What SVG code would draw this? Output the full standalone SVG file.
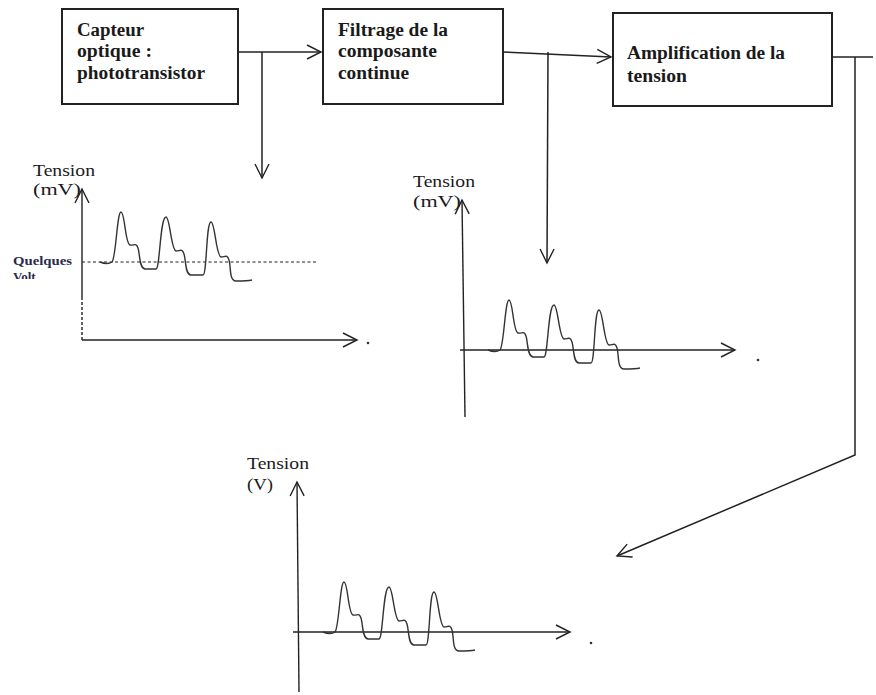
<svg xmlns="http://www.w3.org/2000/svg" width="876" height="695" viewBox="0 0 876 695">
<style>
.box{fill:#fff;stroke:#222;stroke-width:2}
.bt{font-family:"Liberation Serif","Times New Roman",serif;font-weight:bold;font-size:18px;fill:#1a1a1a}
.lt{font-family:"Liberation Serif","Times New Roman",serif;font-size:16px;fill:#1a1a1a}
.ln{fill:none;stroke:#222;stroke-width:1.5}
.ax{fill:none;stroke:#222;stroke-width:1.4}
.wv{fill:none;stroke:#333;stroke-width:1.4}
</style>
<defs>
<marker id="arr" viewBox="-16 -9 18 18" refX="0" refY="0" markerWidth="18" markerHeight="18" markerUnits="userSpaceOnUse" orient="auto">
<path d="M-14,-7 L0,0 L-14,7" fill="none" stroke="#222" stroke-width="1.4"/>
</marker>
<path id="wave" d="M0,0 C5,2 9,2 12,0 C16,-4 17,-50 21,-50 C25,-50 25,-18 30,-17 C34,-16 36,-20 38,-14 C40,-8 39,6 45,7 L56,7 C60,7 60,-45 66,-45 C70,-45 71,-12 76,-11 C80,-11 82,-14 84,-8 C86,-2 85,13 91,13 L103,13 C107,13 106,-40 111,-40 C115,-40 116,-6 121,-5 C125,-5 127,-8 129,-2 C131,4 129,19 136,19 C142,19 148,19 152,18"/>
<clipPath id="voltclip"><rect x="0" y="267" width="80" height="12"/></clipPath>
</defs>

<g id="capteur">
<rect class="box" x="62" y="9" width="176" height="95"/>
<text class="bt" x="77" y="35.5" textLength="67" lengthAdjust="spacingAndGlyphs">Capteur</text>
<text class="bt" x="77" y="57" textLength="75" lengthAdjust="spacingAndGlyphs">optique :</text>
<text class="bt" x="77" y="78.5" textLength="128" lengthAdjust="spacingAndGlyphs">phototransistor</text>
</g>

<g id="filtrage">
<rect class="box" x="323" y="9" width="180" height="95"/>
<text class="bt" x="338" y="35.5" textLength="110" lengthAdjust="spacingAndGlyphs">Filtrage de la</text>
<text class="bt" x="338" y="57" textLength="99" lengthAdjust="spacingAndGlyphs">composante</text>
<text class="bt" x="338" y="78.5" textLength="71" lengthAdjust="spacingAndGlyphs">continue</text>
</g>

<g id="amplification">
<rect class="box" x="613" y="13" width="219" height="93"/>
<text class="bt" x="627" y="59" textLength="158" lengthAdjust="spacingAndGlyphs">Amplification de la</text>
<text class="bt" x="627" y="81.5" textLength="60" lengthAdjust="spacingAndGlyphs">tension</text>
</g>

<g id="connectors">
<line class="ln" x1="238" y1="52" x2="321" y2="52" marker-end="url(#arr)"/>
<line class="ln" x1="262" y1="52" x2="262" y2="178" marker-end="url(#arr)"/>
<line class="ln" x1="503" y1="52" x2="611" y2="57" marker-end="url(#arr)"/>
<line class="ln" x1="548" y1="52" x2="547" y2="263" marker-end="url(#arr)"/>
<polyline class="ln" points="832,57 873,57"/>
<polyline class="ln" points="855,57 855,455 617,556" marker-end="url(#arr)"/>
</g>

<g id="graph1">
<text class="lt" x="33" y="176" textLength="62" lengthAdjust="spacingAndGlyphs">Tension</text>
<text class="lt" x="33" y="195" textLength="48" lengthAdjust="spacingAndGlyphs">(mV)</text>
<line class="ax" x1="82" y1="297" x2="82" y2="189" marker-end="url(#arr)"/>
<line class="ax" x1="82" y1="297" x2="82" y2="340" stroke-dasharray="3,2"/>
<line class="ax" x1="82" y1="340" x2="357" y2="340" marker-end="url(#arr)"/>
<circle cx="368" cy="343" r="1.3" fill="#333"/>
<line x1="82" y1="262" x2="318" y2="262" stroke="#222" stroke-width="1.2" stroke-dasharray="3,2.5"/>
<text x="13" y="265" font-family="Liberation Serif, serif" font-size="13" font-weight="bold" fill="#2a2a4a" textLength="59" lengthAdjust="spacingAndGlyphs">Quelques</text>
<text x="13" y="281" font-family="Liberation Serif, serif" font-size="13" font-weight="bold" fill="#2a2a4a" clip-path="url(#voltclip)">Volt</text>
<use href="#wave" class="wv" transform="translate(100,262)"/>
</g>

<g id="graph2">
<text class="lt" x="413" y="187" textLength="62" lengthAdjust="spacingAndGlyphs">Tension</text>
<text class="lt" x="413" y="207" textLength="48" lengthAdjust="spacingAndGlyphs">(mV)</text>
<line class="ax" x1="465" y1="417" x2="462" y2="200" marker-end="url(#arr)"/>
<line class="ax" x1="460" y1="350" x2="735" y2="350" marker-end="url(#arr)"/>
<circle cx="758" cy="360" r="1.3" fill="#333"/>
<use href="#wave" class="wv" transform="translate(488,350)"/>
</g>

<g id="graph3">
<text class="lt" x="247" y="469" textLength="62" lengthAdjust="spacingAndGlyphs">Tension</text>
<text class="lt" x="247" y="490" textLength="26" lengthAdjust="spacingAndGlyphs">(V)</text>
<line class="ax" x1="299" y1="692" x2="297" y2="482" marker-end="url(#arr)"/>
<line class="ax" x1="293" y1="632" x2="570" y2="632" marker-end="url(#arr)"/>
<circle cx="591" cy="643" r="1.3" fill="#333"/>
<use href="#wave" class="wv" transform="translate(323,632)"/>
</g>
</svg>
